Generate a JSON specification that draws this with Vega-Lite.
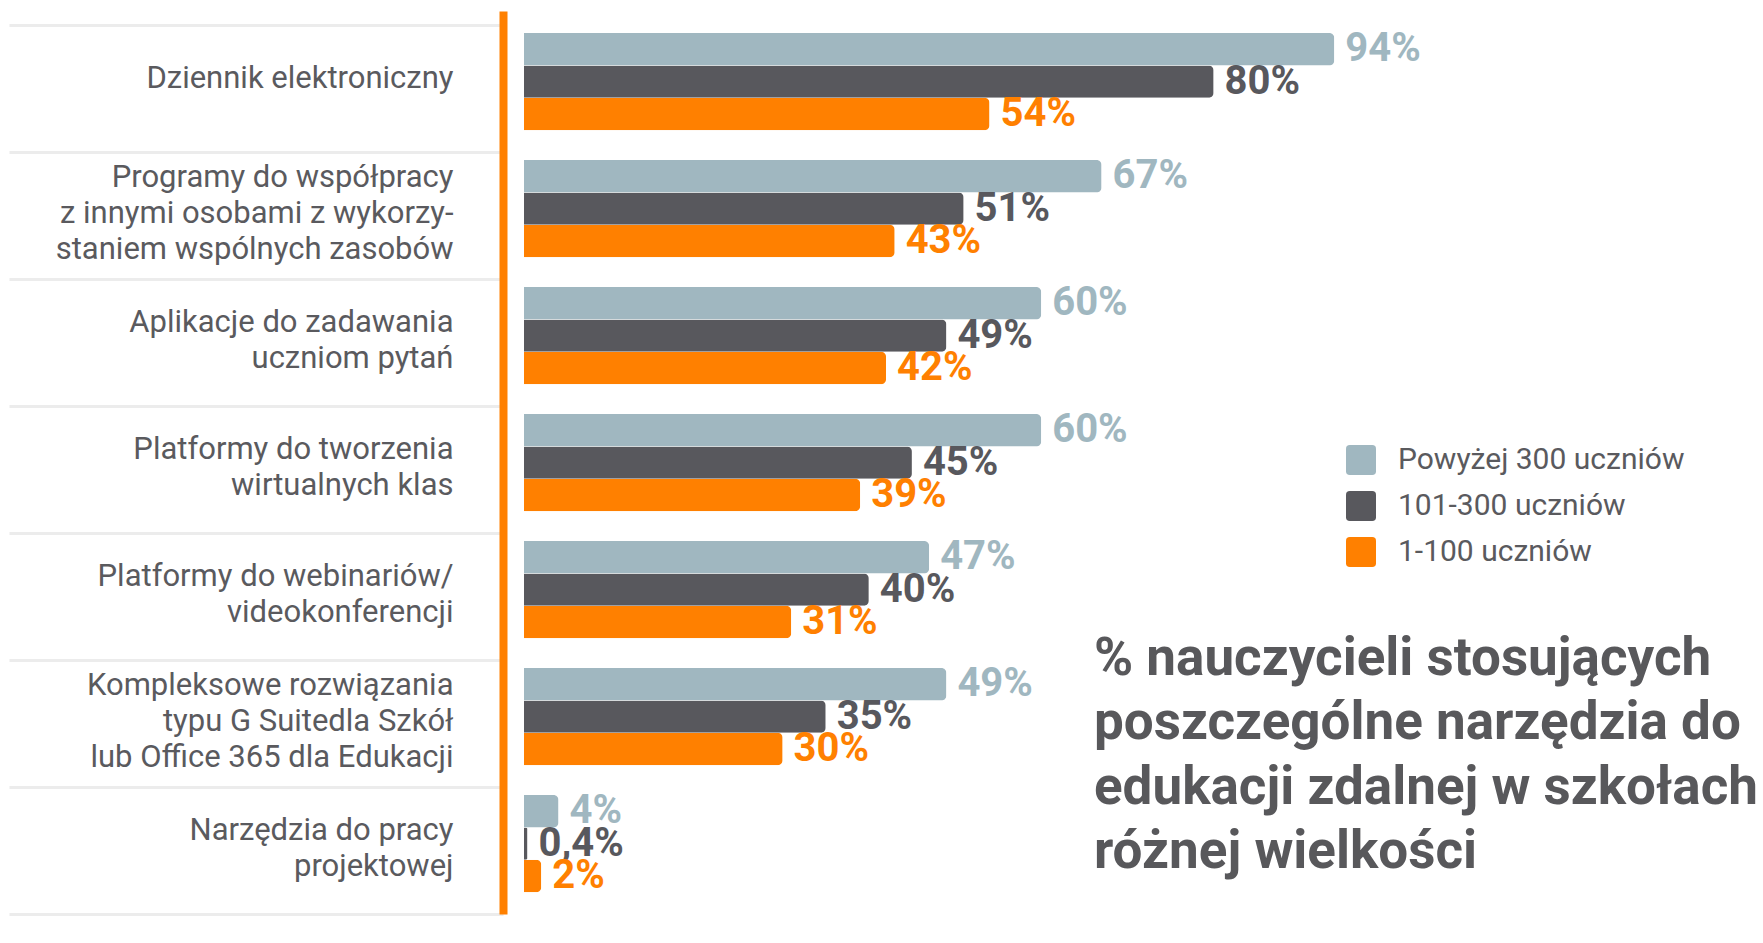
{
  "$schema": "https://vega.github.io/schema/vega-lite/v6.json",
  "width": 1233,
  "height": 903,
  "padding": {"left": 7, "top": 11, "right": 0, "bottom": 0},
  "background": "white",
  "title": {
    "text": ["% nauczycieli stosujących", "poszczególne narzędzia do", "edukacji zdalnej w szkołach", "różnej wielkości"],
    "orient": "bottom",
    "anchor": "start",
    "frame": "group",
    "dx": 570,
    "dy": -283,
    "offset": 0,
    "baseline": "top",
    "font": "Roboto",
    "fontSize": 53,
    "fontWeight": "bold",
    "color": "#58585b",
    "lineHeight": 64.5
  },
  "data": {
    "values": [
      {"cat": "Dziennik elektroniczny", "grp": "Powyżej 300 uczniów", "v": 0.94},
      {"cat": "Dziennik elektroniczny", "grp": "101-300 uczniów", "v": 0.80},
      {"cat": "Dziennik elektroniczny", "grp": "1-100 uczniów", "v": 0.54},
      {"cat": "Programy do współpracy|z innymi osobami z wykorzy-|staniem wspólnych zasobów", "grp": "Powyżej 300 uczniów", "v": 0.67},
      {"cat": "Programy do współpracy|z innymi osobami z wykorzy-|staniem wspólnych zasobów", "grp": "101-300 uczniów", "v": 0.51},
      {"cat": "Programy do współpracy|z innymi osobami z wykorzy-|staniem wspólnych zasobów", "grp": "1-100 uczniów", "v": 0.43},
      {"cat": "Aplikacje do zadawania|uczniom pytań", "grp": "Powyżej 300 uczniów", "v": 0.60},
      {"cat": "Aplikacje do zadawania|uczniom pytań", "grp": "101-300 uczniów", "v": 0.49},
      {"cat": "Aplikacje do zadawania|uczniom pytań", "grp": "1-100 uczniów", "v": 0.42},
      {"cat": "Platformy do tworzenia|wirtualnych klas", "grp": "Powyżej 300 uczniów", "v": 0.60},
      {"cat": "Platformy do tworzenia|wirtualnych klas", "grp": "101-300 uczniów", "v": 0.45},
      {"cat": "Platformy do tworzenia|wirtualnych klas", "grp": "1-100 uczniów", "v": 0.39},
      {"cat": "Platformy do webinariów/|videokonferencji", "grp": "Powyżej 300 uczniów", "v": 0.47},
      {"cat": "Platformy do webinariów/|videokonferencji", "grp": "101-300 uczniów", "v": 0.40},
      {"cat": "Platformy do webinariów/|videokonferencji", "grp": "1-100 uczniów", "v": 0.31},
      {"cat": "Kompleksowe rozwiązania|typu G Suitedla Szkół|lub Office 365 dla Edukacji", "grp": "Powyżej 300 uczniów", "v": 0.49},
      {"cat": "Kompleksowe rozwiązania|typu G Suitedla Szkół|lub Office 365 dla Edukacji", "grp": "101-300 uczniów", "v": 0.35},
      {"cat": "Kompleksowe rozwiązania|typu G Suitedla Szkół|lub Office 365 dla Edukacji", "grp": "1-100 uczniów", "v": 0.30},
      {"cat": "Narzędzia do pracy|projektowej", "grp": "Powyżej 300 uczniów", "v": 0.04},
      {"cat": "Narzędzia do pracy|projektowej", "grp": "101-300 uczniów", "v": 0.004},
      {"cat": "Narzędzia do pracy|projektowej", "grp": "1-100 uczniów", "v": 0.02}
    ]
  },
  "encoding": {
    "y": {
      "field": "cat",
      "type": "nominal",
      "sort": null,
      "scale": {"paddingInner": 0, "paddingOuter": 0.055, "align": 1},
      "axis": {
        "title": null,
        "offset": 21,
        "tickBand": "extent",
        "tickSize": 494,
        "tickWidth": 3,
        "tickColor": "#ececec",
        "domainColor": "#ff8000",
        "domainWidth": 8,
        "labelPadding": -444,
        "labelExpr": "isValid(datum.value) ? split(datum.value, '|') : ''",
        "labelFont": "Roboto",
        "labelFontSize": {"condition": {"test": "!isValid(datum.value)", "value": 0}, "value": 31},
        "labelOffset": {
          "condition": [
            {"test": "!isValid(datum.value)", "value": 0},
            {"test": "indexof(datum.value, 'Dziennik') >= 0", "value": -10},
            {"test": "indexof(datum.value, 'Programy') >= 0 || indexof(datum.value, 'Kompleksowe') >= 0", "value": -38}
          ],
          "value": -20
        },
        "labelLineHeight": 36,
        "labelColor": "#5a5a5e",
        "labelLimit": 600,
        "labelAlign": "right",
        "labelBaseline": "middle",
        "grid": false
      }
    },
    "yOffset": {
      "field": "grp",
      "type": "nominal",
      "sort": ["Powyżej 300 uczniów", "101-300 uczniów", "1-100 uczniów"],
      "scale": {"paddingOuter": 0.46, "paddingInner": 0, "align": 0.27}
    },
    "x": {
      "field": "v",
      "type": "quantitative",
      "scale": {"domain": [0, 1.4304], "nice": false, "zero": true},
      "axis": null
    },
    "color": {
      "field": "grp",
      "type": "nominal",
      "sort": ["Powyżej 300 uczniów", "101-300 uczniów", "1-100 uczniów"],
      "scale": {
        "domain": ["Powyżej 300 uczniów", "101-300 uczniów", "1-100 uczniów"],
        "range": ["#a0b7c0", "#58585d", "#ff8000"]
      },
      "legend": {
        "title": null,
        "orient": "none",
        "legendX": 822,
        "legendY": 434,
        "padding": 0,
        "symbolType": "M-0.75,-1L0.75,-1Q1,-1 1,-0.75L1,0.75Q1,1 0.75,1L-0.75,1Q-1,1 -1,0.75L-1,-0.75Q-1,-1 -0.75,-1Z",
        "symbolSize": 900,
        "symbolStrokeWidth": 0,
        "symbolOpacity": 1,
        "labelFont": "Roboto",
        "labelFontSize": 30,
        "labelColor": "#5a5a5e",
        "labelOffset": 22,
        "labelLimit": 500,
        "rowPadding": 16
      }
    }
  },
  "layer": [
    {"mark": {"type": "bar", "cornerRadiusEnd": 5}},
    {
      "mark": {"type": "text", "align": "left", "baseline": "middle", "dx": 11, "font": "Roboto", "fontSize": 40, "fontWeight": "bold"},
      "encoding": {"text": {"field": "v", "type": "quantitative", "format": ".1~%"}}
    }
  ],
  "config": {
    "view": {"stroke": null},
    "locale": {"number": {"decimal": ",", "thousands": " ", "grouping": [3], "currency": ["", " zł"]}}
  }
}
